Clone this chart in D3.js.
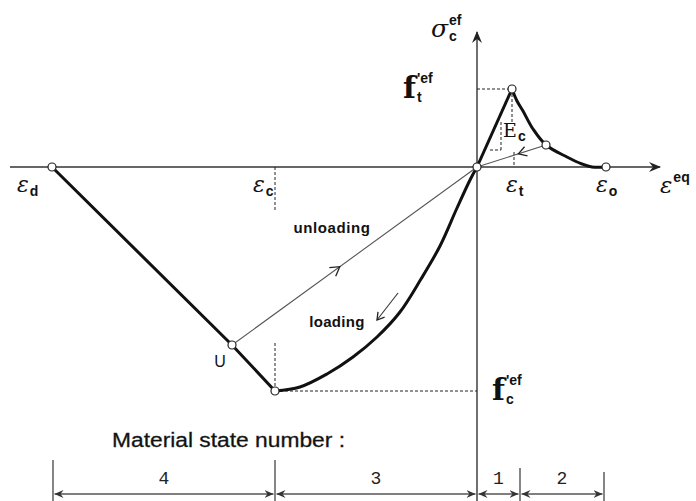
<!DOCTYPE html>
<html>
<head>
<meta charset="utf-8">
<script src="https://cdn.jsdelivr.net/npm/d3@7/dist/d3.min.js"></script>
<style>
  body { margin: 0; background: #fff; }
  svg { display: block; }
  .lbl { font-family: "Liberation Sans", Arial, sans-serif; fill: #111; }
  .greek { font-family: "DejaVu Serif", serif; font-style: italic; fill: #111; }
  .idx { font-family: "Liberation Sans", Arial, sans-serif; font-weight: bold; fill: #111; }
</style>
</head>
<body>
<svg width="696" height="501"></svg>
<script>
// strain / stress values (arbitrary units)
const strainLabels = ["d", "c", "t", "o"];
const strainValues = [-4.25, -2.02, 0.35, 1.29];
const ft = 0.78;
const fc = -2.24;

// compression envelope: eps_d -> U -> peak compression
const compressionLine = [[-4.25, 0], [-2.45, -1.78], [-2.02, -2.24]];
// loading curve from origin to f'c
const loadingCurve = [
    [0, 0], [-0.07, -0.13], [-0.2, -0.41], [-0.37, -0.79], [-0.56, -1.12],
    [-0.77, -1.45], [-1.0, -1.70], [-1.24, -1.90], [-1.5, -2.07],
    [-1.77, -2.20], [-2.02, -2.24]
];
// tension branch
const tensionRise = [[0, 0], [0.35, 0.78]];
const softening = [
    [0.35, 0.78], [0.40, 0.66], [0.46, 0.56], [0.56, 0.38], [0.69, 0.22],
    [0.90, 0.10], [1.05, 0.03], [1.15, 0.0], [1.29, 0]
];
// unloading paths
const unloadU = [[-2.45, -1.78], [0, 0]];
const unloadT = [[0.69, 0.22], [0, 0]];
const points = [[-4.25, 0], [-2.45, -1.78], [-2.02, -2.24], [0, 0], [0.35, 0.78], [0.69, 0.22], [1.29, 0]];

// material state zones
const stateBounds = [-4.24, -2.02, 0, 0.43, 1.27];
const stateNames = ["4", "3", "1", "2"];

const svg = d3.select("svg");
const x = d3.scaleLinear().domain([-4.67, 1.83]).range([10, 660]);
const y = d3.scaleLinear().domain([-3.34, 1.35]).range([501, 32]);
const line = d3.line().x(d => x(d[0])).y(d => y(d[1]));
const curve = d3.line().x(d => x(d[0])).y(d => y(d[1])).curve(d3.curveCatmullRom);

const defs = svg.append("defs");
defs.append("marker")
    .attr("id", "axArrow")
    .attr("viewBox", "0 -5 12 10")
    .attr("refX", 11).attr("refY", 0)
    .attr("markerWidth", 12).attr("markerHeight", 10)
    .attr("markerUnits", "userSpaceOnUse")
    .attr("orient", "auto")
    .append("path")
    .attr("d", "M0,-5L12,0L0,5L4,0Z")
    .attr("fill", "#222");
defs.append("marker")
    .attr("id", "dimArrow")
    .attr("viewBox", "0 -4 9 8")
    .attr("refX", 9).attr("refY", 0)
    .attr("markerWidth", 9).attr("markerHeight", 8)
    .attr("markerUnits", "userSpaceOnUse")
    .attr("orient", "auto-start-reverse")
    .append("path")
    .attr("d", "M0,-4L9,0L0,4L3,0Z")
    .attr("fill", "#333");

// axes
svg.append("line")
    .attr("x1", x(-4.67)).attr("x2", x(1.83))
    .attr("y1", y(0)).attr("y2", y(0))
    .attr("stroke", "#333").attr("stroke-width", 1.4)
    .attr("marker-end", "url(#axArrow)");
svg.append("line")
    .attr("x1", x(0)).attr("x2", x(0))
    .attr("y1", y(-3.34)).attr("y2", y(1.35))
    .attr("stroke", "#333").attr("stroke-width", 1.4)
    .attr("marker-end", "url(#axArrow)");

// dashed guides
const guides = [
    [[0, ft], [0.35, ft]],
    [[-2.02, fc], [0, fc]],
    [[-2.02, 0], [-2.02, -0.43]],
    [[-2.02, -1.76], [-2.02, fc]],
    [[0.37, 0.15], [0.37, 0]],
    [[0.35, ft], [0.35, 0.45]],
    [[0.13, 0.17], [0.24, 0.17]],
    [[0.24, 0.17], [0.24, 0.45]]
];
svg.append("g").selectAll("path")
    .data(guides)
    .join("path")
    .attr("d", line)
    .attr("fill", "none")
    .attr("stroke", "#222")
    .attr("stroke-width", 1)
    .attr("stroke-dasharray", "3,2");

// thin unloading lines
[unloadU, unloadT].forEach(d => {
    svg.append("path").datum(d)
        .attr("d", line)
        .attr("fill", "none")
        .attr("stroke", "#555")
        .attr("stroke-width", 1.1);
});

// arrowheads on the unloading lines
function arrowAt(p0, p1, t, size) {
    const ax = x(p0[0]) + (x(p1[0]) - x(p0[0])) * t;
    const ay = y(p0[1]) + (y(p1[1]) - y(p0[1])) * t;
    const ang = Math.atan2(y(p1[1]) - y(p0[1]), x(p1[0]) - x(p0[0])) * 180 / Math.PI;
    svg.append("path")
        .attr("d", `M${-size},${-size * 0.6}L0,0L${-size},${size * 0.6}`)
        .attr("fill", "none")
        .attr("stroke", "#222")
        .attr("stroke-width", 1.3)
        .attr("transform", `translate(${ax},${ay}) rotate(${ang})`);
}
arrowAt(unloadU[0], unloadU[1], 0.44, 9);
arrowAt(unloadT[0], unloadT[1], 0.4, 8);

// loading direction arrow
const loadArrow = [[-0.79, -1.26], [-1.0, -1.53]];
svg.append("path").datum(loadArrow)
    .attr("d", line)
    .attr("stroke", "#333").attr("stroke-width", 1.1);
arrowAt(loadArrow[0], loadArrow[1], 1, 7);

// thick envelope curves
svg.append("path").datum(compressionLine)
    .attr("d", line)
    .attr("fill", "none").attr("stroke", "#111").attr("stroke-width", 3);
svg.append("path").datum(loadingCurve)
    .attr("d", curve)
    .attr("fill", "none").attr("stroke", "#111").attr("stroke-width", 3);
svg.append("path").datum(tensionRise)
    .attr("d", line)
    .attr("fill", "none").attr("stroke", "#111").attr("stroke-width", 3);
svg.append("path").datum(softening)
    .attr("d", curve)
    .attr("fill", "none").attr("stroke", "#111").attr("stroke-width", 3);

// circles
svg.append("g").selectAll("circle")
    .data(points)
    .join("circle")
    .attr("cx", d => x(d[0]))
    .attr("cy", d => y(d[1]))
    .attr("r", 4)
    .attr("fill", "#fff")
    .attr("stroke", "#222")
    .attr("stroke-width", 1.2);

// symbol with optional superscript / subscript, placed as separate texts
function symbol(px, py, main, size, sup, sub, mainClass, font, weight) {
    const m = svg.append("text")
        .attr("class", mainClass)
        .attr("x", px).attr("y", py)
        .attr("font-size", size)
        .text(main);
    if (font) m.style("font-family", font);
    if (weight) m.style("font-weight", weight);
    const w = m.node().getComputedTextLength();
    if (sup) {
        svg.append("text").attr("class", "idx")
            .attr("x", px + w + 1).attr("y", py - size * 0.5)
            .attr("font-size", 14).text(sup);
    }
    if (sub) {
        svg.append("text").attr("class", "idx")
            .attr("x", px + w + 1).attr("y", py + 4)
            .attr("font-size", 14).text(sub);
    }
}

// strain labels under the axis
const epsOffsets = [-35, -22, -6, -10];
strainValues.forEach((v, i) => {
    symbol(x(v) + epsOffsets[i], y(0) + 25, "ε", 22, null, strainLabels[i], "greek");
});
symbol(x(1.83), y(0) + 26, "ε", 23, "eq", null, "greek");
symbol(x(0) - 46, y(1.35) + 5, "σ", 25, "ef", "c", "greek");

// f' labels
symbol(x(0) - 74, y(ft) + 9, "f", 30, "'ef", "t", "lbl", "DejaVu Serif, serif", "bold");
symbol(x(0) + 15, y(fc) + 9, "f", 30, "'ef", "c", "lbl", "DejaVu Serif, serif", "bold");

// E_c label
symbol(x(0.26), y(0.3), "E", 19, null, "c", "lbl", "DejaVu Serif, serif");

// text labels
svg.append("text").attr("class", "lbl")
    .attr("x", x(-1.45)).attr("y", y(-0.66))
    .attr("text-anchor", "middle")
    .attr("font-size", 15).attr("font-weight", "bold")
    .attr("letter-spacing", 0.6)
    .text("unloading");
svg.append("text").attr("class", "lbl")
    .attr("x", x(-1.4)).attr("y", y(-1.6))
    .attr("text-anchor", "middle")
    .attr("font-size", 15).attr("font-weight", "bold")
    .attr("letter-spacing", 0.3)
    .text("loading");
svg.append("text").attr("class", "lbl")
    .attr("x", x(-2.45) - 12).attr("y", y(-1.78) + 22)
    .attr("text-anchor", "middle")
    .attr("font-size", 16)
    .text("U");

// material state number
svg.append("text").attr("class", "lbl")
    .attr("x", 112).attr("y", 447)
    .attr("font-size", 20)
    .attr("textLength", 233)
    .attr("lengthAdjust", "spacingAndGlyphs")
    .attr("stroke", "#222").attr("stroke-width", 0.3)
    .text("Material state number :");

const dimY = 494;
const tickTops = [460, 460, 467, 468, 472];
svg.append("g").selectAll("line")
    .data(stateBounds)
    .join("line")
    .attr("x1", d => x(d)).attr("x2", d => x(d))
    .attr("y1", (d, i) => tickTops[i]).attr("y2", 501)
    .attr("stroke", "#444").attr("stroke-width", 1.3)
    .attr("display", (d, i) => i === 2 ? "none" : null);

d3.range(stateNames.length).forEach(i => {
    const x0 = x(stateBounds[i]) + 1.5;
    const x1 = x(stateBounds[i + 1]) - 1.5;
    svg.append("line")
        .attr("x1", x0).attr("x2", x1)
        .attr("y1", dimY).attr("y2", dimY)
        .attr("stroke", "#555").attr("stroke-width", 1.6)
        .attr("marker-start", "url(#dimArrow)")
        .attr("marker-end", "url(#dimArrow)");
    svg.append("text")
        .attr("x", (x0 + x1) / 2).attr("y", dimY - 10)
        .attr("text-anchor", "middle")
        .attr("font-family", "Liberation Mono, monospace")
        .attr("font-size", 18)
        .attr("fill", "#222")
        .text(stateNames[i]);
});
</script>
</body>
</html>
